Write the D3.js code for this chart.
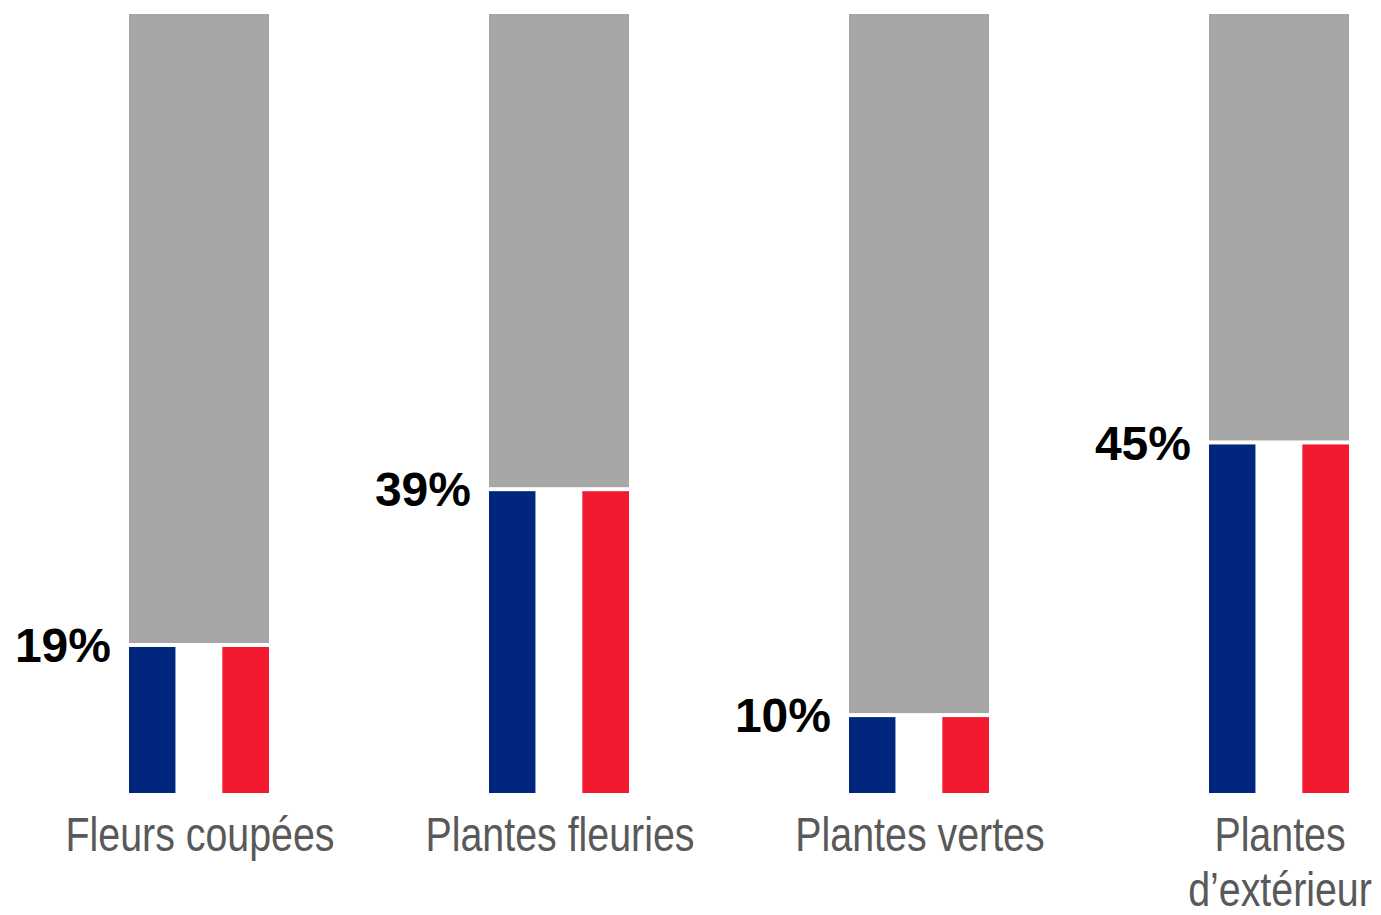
<!DOCTYPE html>
<html>
<head>
<meta charset="utf-8">
<script src="https://cdn.jsdelivr.net/npm/d3@7"></script>
<style>
  html, body { margin: 0; padding: 0; background: #fff; }
  svg { display: block; }
</style>
</head>
<body>
<svg></svg>
<script>
// chart data
const categories = ['Fleurs coupées', 'Plantes fleuries', 'Plantes vertes', 'Plantes d’extérieur'];
const categoryLines = [['Fleurs coupées'], ['Plantes fleuries'], ['Plantes vertes'], ['Plantes', 'd’extérieur']];
const shares = [19, 39, 10, 45];
const shareLabels = ['19%', '39%', '10%', '45%'];

const width = 1381;
const height = 915;

// colours of the flag part and the rest of the bar
const grey = '#a6a6a6';
const blue = '#00267e';
const red = '#f21930';
const textGrey = '#595959';

const svg = d3.select('svg')
  .attr('width', width)
  .attr('height', height);

// band scale: step 360, bar width 140
const x = d3.scaleBand()
  .domain(categories)
  .range([19, 1459])
  .paddingInner(220 / 360)
  .paddingOuter(110 / 360);

const y = d3.scaleLinear()
  .domain([0, 100])
  .range([793, 14]);

const gap = 2;

const bars = svg.selectAll('g.bar').data(categories)
  .enter().append('g')
    .attr('class', 'bar')
    .attr('transform', d => `translate(${x(d)},0)`);

// grey part, from 100% down to the value
bars.append('rect')
  .attr('x', 0)
  .attr('y', y(100))
  .attr('width', x.bandwidth())
  .attr('height', (d, i) => y(shares[i]) - gap - y(100))
  .attr('fill', grey);

// flag part split in three vertical stripes
const third = x.bandwidth() / 3;
[blue, '#ffffff', red].forEach((c, k) => {
  bars.append('rect')
    .attr('x', k * third)
    .attr('y', (d, i) => y(shares[i]) + gap)
    .attr('width', third)
    .attr('height', (d, i) => y(0) - y(shares[i]) - gap)
    .attr('fill', c);
});

// percentage labels, left of each bar
bars.append('text')
  .attr('x', -18)
  .attr('y', (d, i) => y(shares[i]))
  .attr('dy', '0.36em')
  .attr('text-anchor', 'end')
  .style('font-family', '"Liberation Sans", Arial, sans-serif')
  .style('font-weight', 'bold')
  .style('font-size', '48px')
  .attr('fill', '#000')
  .text((d, i) => shareLabels[i]);

// category labels under the bars (condensed look)
const labels = svg.selectAll('g.cat').data(categories)
  .enter().append('g')
    .attr('class', 'cat')
    .attr('transform', d => `translate(${x(d) + x.bandwidth() / 2 + 1},851) scale(0.82,1)`);

labels.append('text')
  .attr('text-anchor', 'middle')
  .style('font-family', '"Liberation Sans", Arial, sans-serif')
  .style('font-size', '48px')
  .attr('fill', textGrey)
  .selectAll('tspan').data((d, i) => categoryLines[i])
  .enter().append('tspan')
    .attr('x', 0)
    .attr('dy', (d, j) => j === 0 ? 0 : 55)
    .text(d => d);
</script>
</body>
</html>
